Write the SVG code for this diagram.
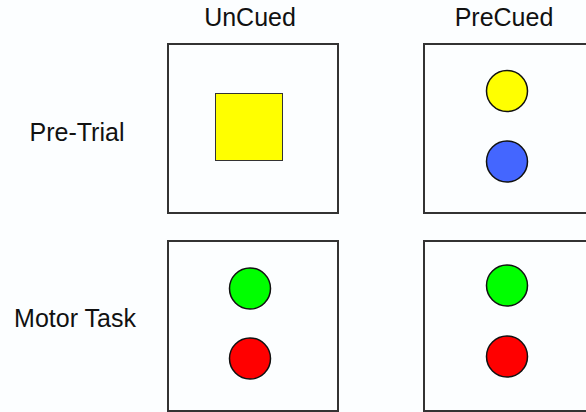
<svg xmlns="http://www.w3.org/2000/svg" width="586" height="412" viewBox="0 0 586 412">
  <style>
    .label { font-family: "Liberation Sans", Arial, sans-serif; font-size: 25px; fill: #111; }
    .panel { fill: #fcfeff; stroke: #333; stroke-width: 2; }
    .dot { stroke: #111; stroke-width: 1.5; }
  </style>
  <rect width="586" height="412" fill="#fcfeff"/>

  <!-- column headings -->
  <g id="col-uncued"><text class="label" x="250" y="26" text-anchor="middle">UnCued</text></g>
  <g id="col-precued"><text class="label" x="504" y="26" text-anchor="middle">PreCued</text></g>

  <!-- row headings -->
  <g id="row-pretrial"><text class="label" x="77" y="141" text-anchor="middle">Pre-Trial</text></g>
  <g id="row-motor"><text class="label" x="75" y="327" text-anchor="middle">Motor Task</text></g>

  <!-- Pre-Trial / UnCued: single yellow square -->
  <g id="panel-pretrial-uncued">
    <rect class="panel" x="168" y="44" width="170" height="169"/>
    <rect x="215.5" y="93.5" width="67" height="67" fill="#ffff00" stroke="#333" stroke-width="1"/>
  </g>

  <!-- Pre-Trial / PreCued: yellow and blue cues -->
  <g id="panel-pretrial-precued">
    <rect class="panel" x="424" y="44" width="170" height="169"/>
    <circle class="dot" cx="507" cy="91" r="20.5" fill="#ffff00"/>
    <circle class="dot" cx="507" cy="161.5" r="20.5" fill="#4466ff"/>
  </g>

  <!-- Motor Task / UnCued: green and red targets -->
  <g id="panel-motor-uncued">
    <rect class="panel" x="168" y="241" width="170" height="170"/>
    <circle class="dot" cx="250" cy="288.5" r="20.5" fill="#00ff00"/>
    <circle class="dot" cx="250" cy="358.5" r="20.5" fill="#ff0000"/>
  </g>

  <!-- Motor Task / PreCued: green and red targets -->
  <g id="panel-motor-precued">
    <rect class="panel" x="424" y="241" width="170" height="170"/>
    <circle class="dot" cx="507" cy="285.5" r="20.5" fill="#00ff00"/>
    <circle class="dot" cx="507" cy="356.5" r="20.5" fill="#ff0000"/>
  </g>

  <!-- no connectors in this figure -->
  <g id="connectors"/>
</svg>
